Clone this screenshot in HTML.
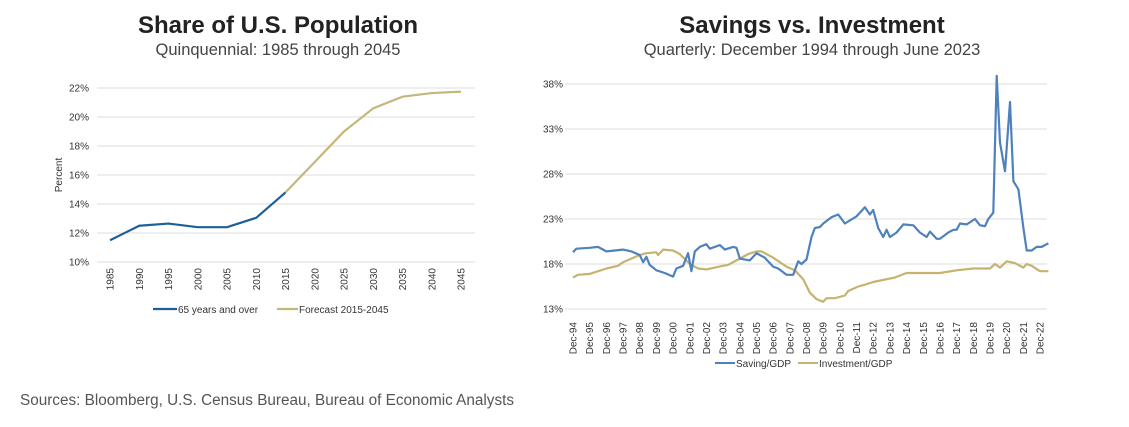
<!DOCTYPE html>
<html><head><meta charset="utf-8"><style>
body{margin:0;background:#fff;width:1129px;height:427px;overflow:hidden;font-family:"Liberation Sans",sans-serif}
svg{position:absolute;left:0;top:0}
</style></head><body>
<svg id="s" width="1129" height="427" xmlns="http://www.w3.org/2000/svg" font-family="Liberation Sans, sans-serif">
<text x="278" y="33" text-anchor="middle" font-size="24" font-weight="bold" fill="#222">Share of U.S. Population</text>
<text x="278" y="55" text-anchor="middle" font-size="16.5" fill="#444">Quinquennial: 1985 through 2045</text>
<text x="812" y="33" text-anchor="middle" font-size="24" font-weight="bold" fill="#222">Savings vs. Investment</text>
<text x="812" y="55" text-anchor="middle" font-size="16.5" fill="#444">Quarterly: December 1994 through June 2023</text>
<text x="20" y="405" font-size="15.3" fill="#555">Sources: Bloomberg, U.S. Census Bureau, Bureau of Economic Analysts</text>
<g id="L"></g><g id="R"></g>
</svg>
<script>
var NS="http://www.w3.org/2000/svg";
function el(p,t,a,txt){var e=document.createElementNS(NS,t);for(var k in a)e.setAttribute(k,a[k]);if(txt!=null)e.textContent=txt;p.appendChild(e);return e;}
var L=document.getElementById("L"),R=document.getElementById("R");
function ly(v){return 262-(v-10)*14.5;}
function lx(y){return 110+(y-1985)/5*29.25;}
for(var v=10;v<=22;v+=2){var y=ly(v);el(L,"line",{x1:97,x2:475,y1:y,y2:y,stroke:"#ddd","stroke-width":1});
el(L,"text",{x:89,y:y+3.5,"text-anchor":"end","font-size":"10",fill:"#333"},v+"%");}
for(var yr=1985;yr<=2045;yr+=5){var x=lx(yr);el(L,"text",{transform:"translate("+(x+3.5)+",268) rotate(-90)","text-anchor":"end","font-size":"10",fill:"#333"},yr);}
el(L,"text",{transform:"translate(62,175) rotate(-90)","text-anchor":"middle","font-size":"10",fill:"#333"},"Percent");
var hist=[11.5,12.5,12.65,12.4,12.4,13.05,14.8],fc=[14.8,16.9,19.0,20.6,21.4,21.65,21.75];
el(L,"polyline",{points:hist.map(function(v,i){return lx(1985+5*i)+","+ly(v)}).join(" "),fill:"none",stroke:"#1d5f98","stroke-width":2.2});
el(L,"polyline",{points:fc.map(function(v,i){return lx(2015+5*i)+","+ly(v)}).join(" "),fill:"none",stroke:"#c5b77c","stroke-width":2.2});
el(L,"line",{x1:153,x2:177,y1:309,y2:309,stroke:"#1d5f98","stroke-width":2.2});
el(L,"text",{x:178,y:313,"font-size":"10",fill:"#333"},"65 years and over");
el(L,"line",{x1:277,x2:298,y1:309,y2:309,stroke:"#c5b77c","stroke-width":2.2});
el(L,"text",{x:299,y:313,"font-size":"10",fill:"#333"},"Forecast 2015-2045");
function ry(v){return 309-(v-13)*9;}
function rx(t){return 573+t*16.68;}
for(var v=13;v<=38;v+=5){var y=ry(v);el(R,"line",{x1:565,x2:1047,y1:y,y2:y,stroke:"#ddd","stroke-width":1});
el(R,"text",{x:563,y:y+3.5,"text-anchor":"end","font-size":"10",fill:"#333"},v+"%");}
for(var i=0;i<=28;i++){var x=rx(i);var yy=(94+i)%100;el(R,"text",{transform:"translate("+(x+3.5)+",322) rotate(-90)","text-anchor":"end","font-size":"10",fill:"#333"},"Dec-"+(yy<10?"0"+yy:yy));}
var sav=[[0,19.3],[0.2,19.7],[1,19.8],[1.5,19.9],[2,19.4],[3,19.6],[3.5,19.4],[4,19.0],[4.2,18.2],[4.4,18.8],[4.6,17.9],[5,17.3],[5.5,17.0],[6,16.6],[6.2,17.5],[6.6,17.8],[6.9,19.2],[7.1,17.2],[7.3,19.4],[7.6,19.9],[8,20.2],[8.2,19.7],[8.8,20.1],[9.1,19.6],[9.6,19.9],[9.8,19.8],[10,18.6],[10.6,18.4],[11,19.2],[11.5,18.7],[12,17.7],[12.3,17.5],[12.8,16.8],[13.2,16.8],[13.5,18.3],[13.7,18.0],[14,18.5],[14.3,21.0],[14.5,22.0],[14.8,22.1],[15,22.5],[15.5,23.2],[15.9,23.5],[16.3,22.5],[17,23.3],[17.5,24.3],[17.8,23.5],[18,24.0],[18.3,22.0],[18.6,21.0],[18.8,21.8],[19,21.0],[19.4,21.5],[19.8,22.4],[20.4,22.3],[20.8,21.5],[21.2,21.0],[21.4,21.6],[21.8,20.8],[22,20.8],[22.5,21.5],[22.8,21.8],[23,21.8],[23.2,22.5],[23.6,22.4],[24.1,23.0],[24.4,22.3],[24.7,22.2],[24.9,23.0],[25.2,23.7],[25.4,38.9],[25.6,31.5],[25.9,28.3],[26.2,36.0],[26.4,27.2],[26.7,26.3],[27,22.0],[27.2,19.5],[27.5,19.5],[27.8,19.9],[28.1,19.9],[28.5,20.3]];
var inv=[[0,16.5],[0.3,16.8],[1,16.9],[2,17.5],[2.7,17.8],[3,18.2],[4,19.0],[4.4,19.2],[5,19.3],[5.1,19.0],[5.4,19.6],[6,19.5],[6.4,19.1],[7,18.0],[7.5,17.5],[8,17.4],[9,17.8],[9.3,17.9],[10,18.6],[10.5,19.1],[11,19.4],[11.3,19.4],[12,18.7],[12.8,17.7],[13.3,17.3],[13.8,16.3],[14.2,14.8],[14.6,14.1],[15,13.8],[15.2,14.2],[15.7,14.2],[16.3,14.5],[16.5,15.0],[17.1,15.5],[17.5,15.7],[18,16.0],[19.3,16.5],[20,17.0],[21,17.0],[22,17.0],[23,17.3],[24,17.5],[25,17.5],[25.3,18.0],[25.6,17.6],[26,18.3],[26.5,18.1],[27,17.6],[27.2,18.0],[27.5,17.8],[28,17.2],[28.5,17.2]];
function pts(a){return a.map(function(p){return rx(p[0]).toFixed(1)+","+ry(p[1]).toFixed(1)}).join(" ");}
el(R,"polyline",{points:pts(inv),fill:"none",stroke:"#c5b36f","stroke-width":2.2,"stroke-linejoin":"round"});
el(R,"polyline",{points:pts(sav),fill:"none",stroke:"#4f81bd","stroke-width":2.2,"stroke-linejoin":"round"});
el(R,"line",{x1:715,x2:735,y1:363,y2:363,stroke:"#4f81bd","stroke-width":2});
el(R,"text",{x:736,y:367,"font-size":"10",fill:"#333"},"Saving/GDP");
el(R,"line",{x1:798,x2:818,y1:363,y2:363,stroke:"#c5b36f","stroke-width":2});
el(R,"text",{x:819,y:367,"font-size":"10",fill:"#333"},"Investment/GDP");
</script>
</body></html>
